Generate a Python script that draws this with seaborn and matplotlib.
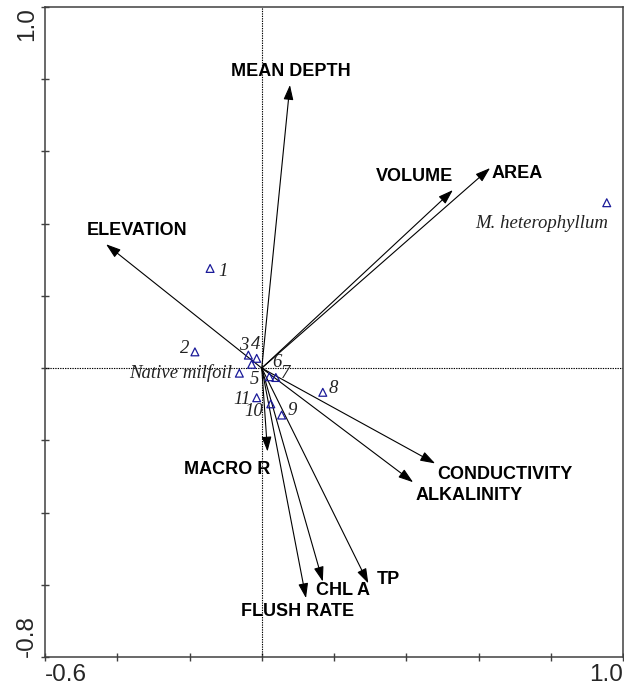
import matplotlib
matplotlib.use("Agg")
import matplotlib.pyplot as plt
import seaborn as sns
import pandas as pd

# ---- data ----
env_names = ["MEAN DEPTH", "ELEVATION", "VOLUME", "AREA", "MACRO R",
             "CONDUCTIVITY", "ALKALINITY", "TP", "CHL A", "FLUSH RATE"]
env_x = [0.078, -0.431, 0.529, 0.632, 0.016, 0.480, 0.419, 0.295, 0.169, 0.1225]
env_y = [0.784, 0.343, 0.493, 0.554, -0.231, -0.264, -0.316, -0.596, -0.591, -0.637]

pt_names = ["M. heterophyllum", "1", "2", "3", "4", "5", "Native milfoil",
            "6", "7", "8", "11", "10", "9"]
pt_x = [0.955, -0.143, -0.185, -0.037, -0.014, -0.028, -0.062,
        0.021, 0.039, 0.169, -0.014, 0.025, 0.055]
pt_y = [0.458, 0.276, 0.045, 0.036, 0.027, 0.0105, -0.014,
        -0.024, -0.026, -0.067, -0.082, -0.099, -0.130]

x_ticklabels = ["-0.6", "1.0"]
y_ticklabels = ["-0.8", "1.0"]

# ---- layout (label positions in data coords / offsets in px) ----
env_label_pos = {
    "MEAN DEPTH": (0.080, 0.821), "ELEVATION": (-0.344, 0.382),
    "VOLUME": (0.422, 0.532), "AREA": (0.707, 0.539),
    "MACRO R": (-0.096, -0.280), "CONDUCTIVITY": (0.672, -0.294),
    "ALKALINITY": (0.573, -0.352), "TP": (0.350, -0.585),
    "CHL A": (0.226, -0.617), "FLUSH RATE": (0.099, -0.675),
}
pt_label_off = {  # (dx px, dy px up, ha)
    "M. heterophyllum": (1, -21, "right"), "1": (13, -3, "center"),
    "2": (-10, 3, "center"), "3": (-5, 10, "center"), "4": (-1, 14, "center"),
    "5": (3, -15, "center"), "Native milfoil": (-7, 0, "right"),
    "6": (8, 14, "center"), "7": (10, 4, "center"), "8": (10, 4, "center"),
    "11": (-15, -2, "center"), "10": (-17, -8, "center"), "9": (11, 5, "center"),
}

sns.set_style("white")
plt.rcParams["font.family"] = ["Liberation Sans", "DejaVu Sans"]

fig = plt.figure(figsize=(6.24, 6.91), dpi=100)
ax = fig.add_axes([45 / 624, 1 - 657 / 691, 578 / 624, 650 / 691])
ax.set_xlim(-0.6, 1.0)
ax.set_ylim(-0.8, 1.0)

# zero lines
ax.axvline(0, color="black", lw=0.8, ls=(0, (1.2, 1.0)), zorder=1)
ax.axhline(0, color="black", lw=0.8, ls=(0, (1.2, 1.0)), zorder=1)

# environmental arrows
for name, x, y in zip(env_names, env_x, env_y):
    ax.annotate("", xy=(x, y), xytext=(0, 0),
                arrowprops=dict(arrowstyle="-|>,head_length=0.6,head_width=0.2",
                                mutation_scale=15, color="black", lw=0.8,
                                shrinkA=0, shrinkB=0), zorder=3)
    lx, ly = env_label_pos[name]
    ax.text(lx, ly, name, ha="center", va="center", fontsize=13,
            fontweight="bold", color="black", family=["Liberation Sans"])

# points
df = pd.DataFrame({"x": pt_x, "y": pt_y, "name": pt_names})
sns.scatterplot(data=df, x="x", y="y", marker="^", s=32, ax=ax,
                color="#000080", linewidth=0.9, legend=False, zorder=4)
coll = ax.collections[-1]
coll.set_facecolor("none")
coll.set_edgecolor("#1a1a99")

for name, x, y in zip(pt_names, pt_x, pt_y):
    dx, dy, ha = pt_label_off[name]
    ax.annotate(name, xy=(x, y), xytext=(dx * 0.72, dy * 0.72),
                textcoords="offset points", ha=ha, va="center",
                fontsize=13.5, fontstyle="italic", color="#222222",
                family=["Liberation Serif"], zorder=5)

# axes styling
ax.set_xlabel("")
ax.set_ylabel("")
ax.set_xticks([-0.6, -0.4, -0.2, 0.0, 0.2, 0.4, 0.6, 0.8, 1.0])
ax.set_yticks([-0.8, -0.6, -0.4, -0.2, 0.0, 0.2, 0.4, 0.6, 0.8, 1.0])
ax.set_xticklabels([x_ticklabels[0]] + [""] * 7 + [x_ticklabels[1]], fontsize=17.5)
ax.set_yticklabels([y_ticklabels[0]] + [""] * 8 + [y_ticklabels[1]], fontsize=17.5,
                   rotation=90)
xt = ax.get_xticklabels()
xt[0].set_ha("left")
xt[-1].set_ha("right")
yt = ax.get_yticklabels()
yt[0].set_va("bottom")
yt[-1].set_va("top")
ax.tick_params(axis="both", direction="inout", length=6, width=1.0,
               color="#404040", pad=2, bottom=True, left=True)
for sp in ax.spines.values():
    sp.set_color("#404040")
    sp.set_linewidth(1.1)

fig.savefig("out.png", dpi=100)
